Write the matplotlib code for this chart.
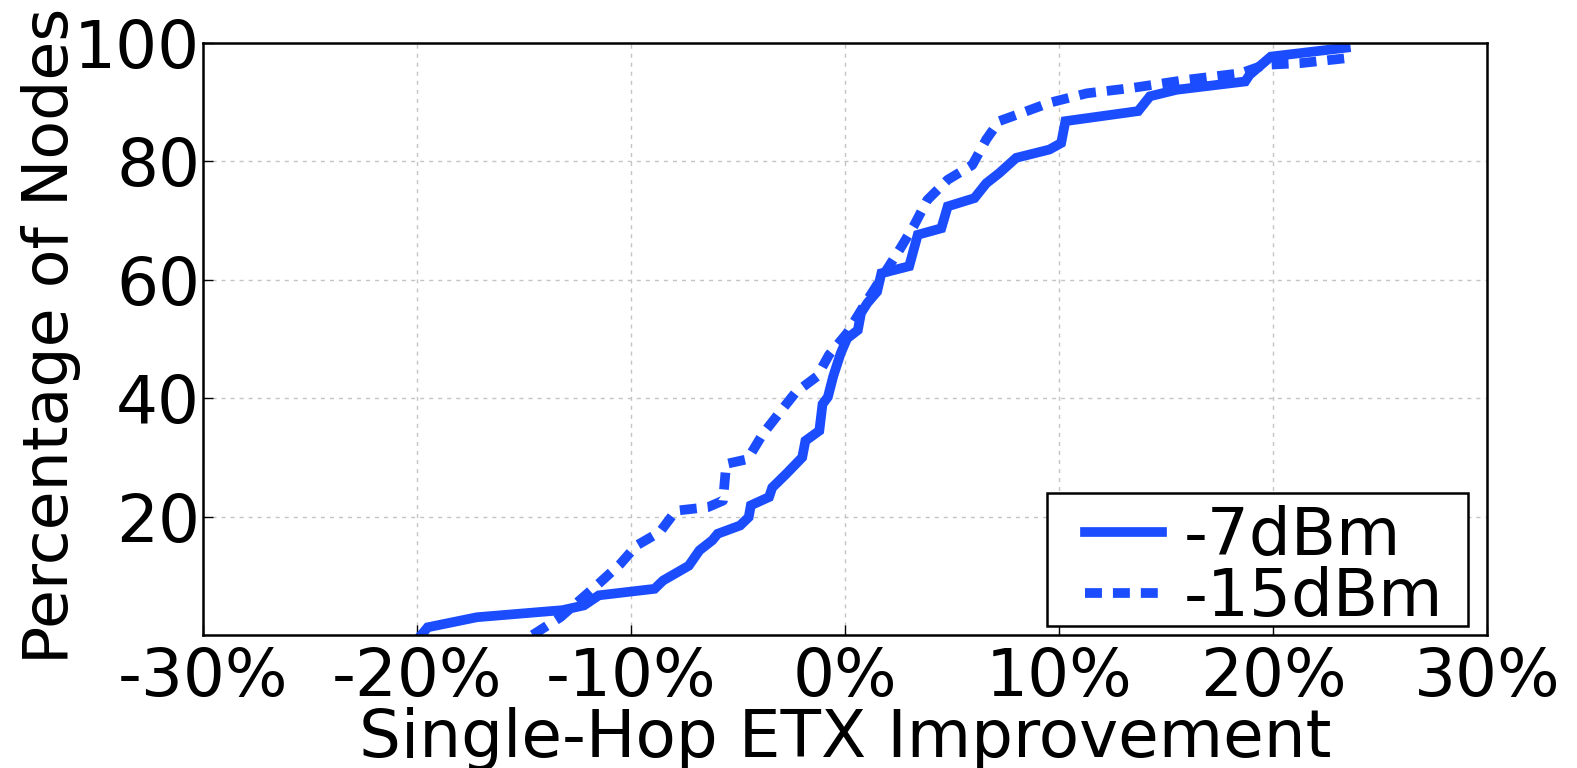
import matplotlib
matplotlib.use("Agg")
import matplotlib.pyplot as plt
from matplotlib.patches import Rectangle
from matplotlib.ticker import FixedLocator, FixedFormatter

# CDF of per-node single-hop ETX improvement at two transmit powers
minus7_x = [-19.8, -19.5, -17.2, -13.2, -12.2, -11.5, -8.9, -8.5, -7.3, -6.8,
            -6.2, -5.95, -4.9, -4.5, -4.4, -3.55, -3.4, -2.75, -2.0, -1.85,
            -1.2, -1.05, -0.8, -0.55, -0.2, 0.1, 0.6, 0.75, 1.05, 1.5,
            1.7, 3.0, 3.4, 4.5, 4.8, 6.05, 6.6, 7.2, 8.0, 9.55,
            10.1, 10.3, 13.7, 14.25, 15.5, 18.7, 18.9, 19.9, 23.4]
minus7_y = [0, 1.3, 3.0, 4.2, 5.0, 6.7, 7.8, 9.2, 11.7, 14.3,
            16.0, 17.1, 18.5, 19.9, 21.9, 23.3, 24.9, 27.2, 30.0, 32.8,
            34.5, 39.0, 40.2, 43.7, 47.6, 50.1, 51.5, 54.4, 56.1, 58.0,
            61.1, 62.3, 67.6, 68.7, 72.4, 73.8, 76.3, 78.0, 80.6, 82.0,
            83.1, 86.8, 88.5, 91.0, 92.1, 93.5, 94.6, 97.7, 99.2]

minus15_x = [-14.6, -13.3, -11.5, -10.5, -9.75, -8.65, -7.9, -6.4, -5.7, -5.55,
             -4.55, -3.85, -3.05, -2.3, -1.3, -0.75, 0.1, 1.05, 2.55, 3.2,
             3.85, 4.8, 5.95, 6.6, 7.2, 8.5, 9.55, 11.3, 13.4, 16.0,
             18.5, 19.6, 21.3, 23.6]
minus15_y = [0, 3.0, 8.7, 12.0, 15.1, 17.4, 21.0, 21.6, 22.7, 28.9,
             29.7, 33.9, 37.6, 41.0, 43.7, 47.3, 51.0, 56.6, 65.1, 69.0,
             73.5, 76.9, 79.4, 83.7, 86.8, 88.5, 89.9, 91.5, 92.4, 93.8,
             94.9, 96.3, 96.6, 97.5]

series_labels = ["-7dBm", "-15dBm"]
x_ticks = [-30, -20, -10, 0, 10, 20, 30]
x_tick_labels = ["-30%", "-20%", "-10%", "0%", "10%", "20%", "30%"]
y_ticks = [20, 40, 60, 80, 100]
y_tick_labels = ["20", "40", "60", "80", "100"]

BLUE = "#1b4dff"
FS = 47.5
LW = 7.0

plt.rcParams["font.family"] = ["DejaVu Sans"]
plt.rcParams["axes.unicode_minus"] = False

fig = plt.figure(figsize=(15.77, 7.68), dpi=100)
ax = fig.add_axes([203 / 1577, 1 - 635 / 768, (1487 - 203) / 1577, (635 - 43) / 768])

ax.plot(minus7_x, minus7_y, color=BLUE, lw=LW, solid_joinstyle="miter",
        label=series_labels[0])
ax.plot(minus15_x, minus15_y, color=BLUE, lw=LW,
        linestyle=(0, (12.2 / LW, 7.9 / LW)), dash_capstyle="butt",
        label=series_labels[1])

ax.set_xlim(-30, 30)
ax.set_ylim(0, 100)
ax.xaxis.set_major_locator(FixedLocator(x_ticks))
ax.xaxis.set_major_formatter(FixedFormatter(x_tick_labels))
ax.yaxis.set_major_locator(FixedLocator(y_ticks))
ax.yaxis.set_major_formatter(FixedFormatter(y_tick_labels))

ax.tick_params(axis="both", which="major", direction="in", length=7, width=1,
               labelsize=FS, top=False, right=False)
ax.tick_params(axis="x", pad=8)
ax.tick_params(axis="y", pad=2)

ax.grid(True, color="#c4c4c4", lw=1.0, linestyle=(0, (2.9, 3.6)))
ax.set_axisbelow(True)
for s in ax.spines.values():
    s.set_linewidth(1.8)
    s.set_color("black")

ax.set_xlabel("Single-Hop ETX Improvement", fontsize=FS)
ax.set_ylabel("Percentage of Nodes", fontsize=45.6)
ax.xaxis.set_label_coords(0.5, -0.122)
ax.yaxis.set_label_coords(-0.095, 0.506)

# legend box: a plain rectangular frame with the entries set inside it
frame = Rectangle((0.6573, 0.0152), 0.9852 - 0.6573, 0.2399 - 0.0152,
                  transform=ax.transAxes, facecolor="white", edgecolor="black",
                  lw=1.8, zorder=4)
ax.add_patch(frame)
leg = ax.legend(loc="upper left", bbox_to_anchor=(0.6869, 0.2196),
                borderaxespad=0, borderpad=0, fontsize=FS, handlelength=1.16,
                handletextpad=0.34, labelspacing=-0.05, frameon=False)
leg.set_zorder(5)

fig.savefig("out.png", dpi=100, facecolor="white")
